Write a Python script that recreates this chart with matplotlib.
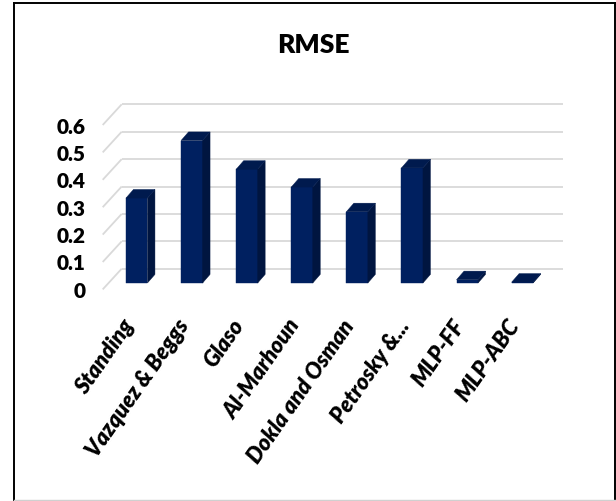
import matplotlib
matplotlib.use('Agg')
import matplotlib.pyplot as plt
from matplotlib.patches import Polygon
from matplotlib.lines import Line2D

# ---- data ----
categories = ['Standing', 'Vazquez & Beggs', 'Glaso', 'Al-Marhoun',
              'Dokla and Osman', 'Petrosky &...', 'MLP-FF', 'MLP-ABC']
rmse = [0.31, 0.52, 0.415, 0.35, 0.26, 0.42, 0.012, 0.003]
yticks = [0, 0.1, 0.2, 0.3, 0.4, 0.5, 0.6]
ytick_labels = ['0', '0.1', '0.2', '0.3', '0.4', '0.5', '0.6']
title = 'RMSE'

plt.rcParams['font.family'] = ['Lato', 'DejaVu Sans']

W, H = 616, 501
fig = plt.figure(figsize=(W / 100, H / 100), dpi=100)
ax = fig.add_axes([0, 0, 1, 1])

# calibration of the bar plane (pixels)
X0_PX, DX_PX = 136.7, 55.1     # center of first category, spacing
Y0_PX, DY_PX = 283.0, 274.0    # baseline, pixels per 1.0
ax.set_xlim(-X0_PX / DX_PX, (W - X0_PX) / DX_PX)
ax.set_ylim((Y0_PX - H) / DY_PX, Y0_PX / DY_PX)
ax.axis('off')


def off(dx_px, dy_down_px):
    return dx_px / DX_PX, -dy_down_px / DY_PX


# back wall / front offsets relative to the bar plane
bx, by = off(12.55, -14.3)
fx, fy = off(-6.45, 6.4)
grid_c = '#d9d9d9'
n = len(categories)
for v in yticks:
    ax.plot([-0.5 + bx, n - 0.5 + bx], [v + by, v + by], color=grid_c, lw=1.3,
            zorder=1, solid_capstyle='butt')
    ax.plot([-0.5 + fx, -0.5 + bx], [v + fy, v + by], color=grid_c, lw=1.3,
            zorder=1, solid_capstyle='butt')

lx, ly = off(-17.0, 2.0)
for v, lab in zip(yticks, ytick_labels):
    ax.text(-0.5 + fx + lx, v + fy + ly, lab, ha='right', va='center',
            fontsize=15, fontweight='heavy', color='black')

# bars (oblique 3D)
hw = 10.75 / DX_PX
ddx, ddy = off(7.5, -8.6)
front_c = '#002060'
side_c = '#001540'
top_c = '#001a4e'
for i, v in enumerate(rmse):
    xl, xr = i - hw, i + hw
    ax.add_patch(Polygon([(xl, 0), (xr, 0), (xr, v), (xl, v)], closed=True,
                         facecolor=front_c, edgecolor=front_c, lw=0.3, zorder=3))
    ax.add_patch(Polygon([(xr, 0), (xr + ddx, ddy), (xr + ddx, v + ddy), (xr, v)],
                         closed=True, facecolor=side_c, edgecolor=side_c, lw=0.3, zorder=3))
    ax.add_patch(Polygon([(xl, v), (xr, v), (xr + ddx, v + ddy), (xl + ddx, v + ddy)],
                         closed=True, facecolor=top_c, edgecolor=top_c, lw=0.3, zorder=3))

# category labels
lab_y = (Y0_PX - 322) / DY_PX
for i, lab in enumerate(categories):
    ax.text(i - 7 / DX_PX, lab_y, lab, ha='right', va='center', rotation=55,
            rotation_mode='anchor', fontsize=16, fontweight='heavy',
            fontstyle='italic', color='black')

fig.text(313.3 / W, 1 - 45.3 / H, title, ha='center', va='center',
         fontsize=19, fontweight='heavy', color='black')

# outer frame
def fl(x0, y0, x1, y1, c='black', lw=1.4):
    fig.add_artist(Line2D([x0 / W, x1 / W], [1 - y0 / H, 1 - y1 / H],
                          transform=fig.transFigure, color=c, lw=lw))

fl(13.5, 2.5, 614.5, 2.5)
fl(13.5, 2.5, 13.5, 501)
fl(614.5, 2.5, 614.5, 501)
fl(13.5, 500, 614.5, 500, c='#d0d0d0', lw=1.0)

fig.savefig('out.png', dpi=100, facecolor='white')
